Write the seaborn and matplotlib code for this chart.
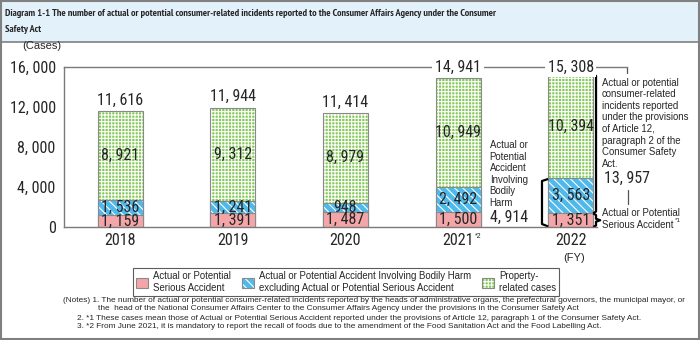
import matplotlib
matplotlib.use("Agg")
import matplotlib.pyplot as plt
import matplotlib.patches as mpatches
from matplotlib import font_manager as fm
from matplotlib.colors import to_rgba
import seaborn as sns
import pandas as pd

# ---- data ----
years = ["2018", "2019", "2020", "2021", "2022"]
serious = [1159, 1391, 1487, 1500, 1351]
bodily = [1536, 1241, 948, 2492, 3563]
property_cases = [8921, 9312, 8979, 10949, 10394]
totals = [11616, 11944, 11414, 14941, 15308]
yticks = [0, 4000, 8000, 12000, 16000]

sns.set_style("white")

ttf = fm.fontManager.ttflist
avail = {f.name for f in ttf}


def _w(v):
    if isinstance(v, (int, float)):
        return v
    return fm.weight_dict.get(str(v), 400)


def pick(*cands, default="DejaVu Sans"):
    for c in cands:
        if c in avail:
            return c
    return default


NARROW_LIST = ("Liberation Sans Narrow", "Arial Narrow", "Roboto Condensed", "Archivo Narrow",
               "PT Sans Narrow", "Barlow Semi Condensed", "Asap Condensed", "IBM Plex Sans Condensed",
               "Fira Sans Condensed", "Encode Sans Condensed", "Sofia Sans Condensed",
               "Open Sans Condensed", "Roboto", "Liberation Sans")
NARROW = pick(*NARROW_LIST)
SANS = pick("Liberation Sans", "Arimo", "Arial")
NUM = [NARROW, "DejaVu Sans"]
BOLD_CANDS = [c for c in NARROW_LIST
              if any(f.name == c and _w(f.weight) >= 600 and f.style == "normal" for f in ttf)]

plt.rcParams["font.family"] = [SANS, "DejaVu Sans"]
plt.rcParams["hatch.linewidth"] = 0.8

W, H = 700, 340
fig = plt.figure(figsize=(7, 3.4), dpi=100)
renderer = fig.canvas.get_renderer()


def px(x, y):
    return x / W, (H - y) / H


def width_of(s, size, family, weight="normal"):
    t = fig.text(0, 0, s, fontsize=size, family=family, fontweight=weight)
    w = t.get_window_extent(renderer).width
    t.remove()
    return w


def fit_size(s, target, family, weight="normal", base=10.0):
    return base * target / width_of(s, base, family, weight)


ax = fig.add_axes([64 / W, (H - 227) / H, (627 - 64) / W, 160 / H])

df = pd.DataFrame({
    "year": years,
    "serious": serious,
    "lower": [s + b for s, b in zip(serious, bodily)],
    "total": [s + b + p for s, b, p in zip(serious, bodily, property_cases)],
})

PINK = "#f4a5a8"
BLUE = "#4fb9ec"
GREEN = "#84c957"
EDGE = "#8a8a8a"
WHITE = to_rgba("white")
BHATCH = "\\\\\\\\"
GHATCH = "+++++"


def layer(col, color, hatch):
    n0 = len(ax.patches)
    sns.barplot(data=df, x="year", y=col, color=color, width=0.4, order=years,
                errorbar=None, hatch=hatch, edgecolor=EDGE, linewidth=0.8,
                saturation=1, ax=ax)
    for p in ax.patches[n0:]:
        p._hatch_color = WHITE


layer("total", GREEN, GHATCH)
layer("lower", BLUE, BHATCH)
layer("serious", PINK, None)

ax.set_xlim(-0.5, 4.5)
ax.set_ylim(0, 16000)
ax.set_xlabel("")
ax.set_ylabel("")

for s in ["left", "bottom", "top"]:
    ax.spines[s].set_color("#7a7a7a")
    ax.spines[s].set_linewidth(1.0)
ax.spines["right"].set_visible(False)
ax.spines["bottom"].set_bounds(-0.5, 4.23)


def fmt(v):
    return f"{v:,}".replace(",", ", ")


NS = 11.5
ax.set_yticks(yticks)
ax.set_yticklabels([fmt(v) for v in yticks], fontfamily=NUM, fontsize=NS)
ax.tick_params(axis="y", length=3, width=0.8, color="#7a7a7a", pad=3)
ax.set_xticks(range(len(years)))
ax.set_xticklabels(years, fontfamily=NUM, fontsize=NS)
ax.tick_params(axis="x", length=0, pad=4)
ax.set_xticks([0.5, 1.5, 2.5, 3.5], minor=True)
ax.tick_params(axis="x", which="minor", direction="in", length=4.5, width=0.8, color="#7a7a7a")
ax.text(3.15, -950, "*2", fontsize=5, va="center", ha="left", clip_on=False)

for i in range(len(years)):
    ax.text(i, serious[i] / 2, fmt(serious[i]), ha="center", va="center",
            fontfamily=NUM, fontsize=NS)
    ax.text(i, serious[i] + bodily[i] / 2, fmt(bodily[i]), ha="center", va="center",
            fontfamily=NUM, fontsize=NS)
    ax.text(i, serious[i] + bodily[i] + property_cases[i] / 2, fmt(property_cases[i]),
            ha="center", va="center", fontfamily=NUM, fontsize=NS)
    if totals[i] > 14000:
        ax.text(i, 16000, fmt(totals[i]), ha="center", va="center", fontfamily=NUM,
                fontsize=NS, bbox=dict(facecolor="white", edgecolor="none", pad=2), clip_on=False)
    else:
        ax.text(i, totals[i] + 350, fmt(totals[i]), ha="center", va="bottom",
                fontfamily=NUM, fontsize=NS)

ax.plot([4.5, 4.5], [16000, 15400], color="#555555", lw=0.9, clip_on=False)

ANN = fit_size("under the provisions", 87, [SANS, "DejaVu Sans"])
ax.text(4.276, 14950,
        "Actual or potential\nconsumer-related\nincidents reported\nunder the provisions\nof Article 12,\n"
        "paragraph 2 of the\nConsumer Safety\nAct.",
        ha="left", va="top", fontsize=ANN, linespacing=1.2, clip_on=False)
ax.text(4.30, 4900, fmt(13957), ha="left", va="center", fontfamily=NUM, fontsize=NS, clip_on=False)
ax.plot([4.507, 4.507], [3700, 2300], color="#555555", lw=0.9, clip_on=False)
ax.text(4.276, 1850, "Actual or Potential\nSerious Accident", ha="left", va="top",
        fontsize=ANN, linespacing=1.2, clip_on=False)
sa_w = width_of("Serious Accident", ANN, [SANS, "DejaVu Sans"])
ax.text(4.276 + (sa_w + 1.5) / 112.6, 650, "*1", fontsize=4.5, ha="left", va="center", clip_on=False)

ax.text(3.28, 8700, "Actual or\nPotential\nAccident\nInvolving\nBodily\nHarm",
        ha="left", va="top", fontsize=ANN, linespacing=1.2)
ax.text(3.28, 1000, fmt(4914), ha="left", va="center", fontfamily=NUM, fontsize=NS)

bk = dict(color="black", lw=1.6, clip_on=False, solid_capstyle="butt")
ax.plot([4.2, 4.225, 4.225, 4.2], [15308, 15100, 1560, 1351], **bk)
ax.plot([4.2, 4.225, 4.225, 4.262, 4.225, 4.225, 4.2],
        [1351, 1200, 820, 675, 530, 150, 0], **bk)
ax.plot([3.8, 3.745, 3.745, 3.8], [4800, 4600, 300, 50], **bk)

# ---- figure decorations ----
fig.patches.append(mpatches.Rectangle((0, (H - 42) / H), 1, 42 / H, transform=fig.transFigure,
                                      facecolor="#e3f1fb", edgecolor="#808080", lw=1.2, zorder=0))
fig.patches.append(mpatches.Rectangle((0.001, 0.0015), 0.998, 0.997, transform=fig.transFigure,
                                      facecolor="none", edgecolor="#808080", lw=1.5, zorder=0))
t1 = ("Diagram 1-1 The number of actual or potential consumer-related incidents reported "
      "to the Consumer Affairs Agency under the Consumer")
best = None
for c in BOLD_CANDS or ["Liberation Sans"]:
    s = fit_size(t1, 492, [c, "DejaVu Sans"], "bold")
    if best is None or abs(s - 8.6) < abs(best[1] - 8.6):
        best = (c, s)
TF = [best[0], "DejaVu Sans"]
TS = best[1]
fig.text(*px(5, 13), t1, fontsize=TS, fontweight="bold", family=TF, va="center", ha="left")
fig.text(*px(5, 30), "Safety Act", fontsize=TS, fontweight="bold", family=TF, va="center", ha="left")

fig.text(*px(22, 46), "(Cases)", fontsize=8, va="center", ha="left")
fig.text(*px(563, 258), "(FY)", fontsize=8, va="center", ha="left")

handles = []
for c, h in [(PINK, None), (BLUE, BHATCH), (GREEN, GHATCH)]:
    p = mpatches.Patch(facecolor=c, edgecolor=EDGE, hatch=h, linewidth=0.8)
    p._hatch_color = WHITE
    handles.append(p)
labels = ["Actual or Potential\nSerious Accident",
          "Actual or Potential Accident Involving Bodily Harm\nexcluding Actual or Potential Serious Accident",
          "Property-\nrelated cases"]
LS = fit_size("Actual or Potential Accident Involving Bodily Harm", 213, [SANS, "DejaVu Sans"])
leg = fig.legend(handles, labels, loc="center", bbox_to_anchor=px(346, 282), ncol=3,
                 fontsize=LS, frameon=True, fancybox=False, edgecolor="#333333",
                 handlelength=1.3, handleheight=1.3, handletextpad=0.5, columnspacing=1.1,
                 borderpad=0.3, labelspacing=0.2)
leg.get_frame().set_linewidth(0.8)
for p in leg.get_patches():
    p._hatch_color = WHITE

n1 = ("(Notes) 1. The number of actual or potential consumer-related incidents reported by "
      "the heads of administrative organs, the prefectural governors, the municipal mayor, or")
NF = fit_size(n1, 620, [SANS, "DejaVu Sans"])
fig.text(*px(63, 300), n1, fontsize=NF, va="center", ha="left")
fig.text(*px(98, 309), "the  head of the National Consumer Affairs Center to the Consumer Affairs Agency "
         "under the provisions in the Consumer Safety Act", fontsize=NF, va="center", ha="left")
fig.text(*px(77, 318), "2. *1 These cases mean those of Actual or Potential Serious Accident reported under "
         "the provisions of Article 12, paragraph 1 of the Consumer Safety Act.",
         fontsize=NF, va="center", ha="left")
fig.text(*px(77, 326.5), "3. *2 From June 2021, it is mandatory to report the recall of foods due to the "
         "amendment of the Food Sanitation Act and the Food Labelling Act.",
         fontsize=NF, va="center", ha="left")

fig.savefig("out.png", dpi=100)
